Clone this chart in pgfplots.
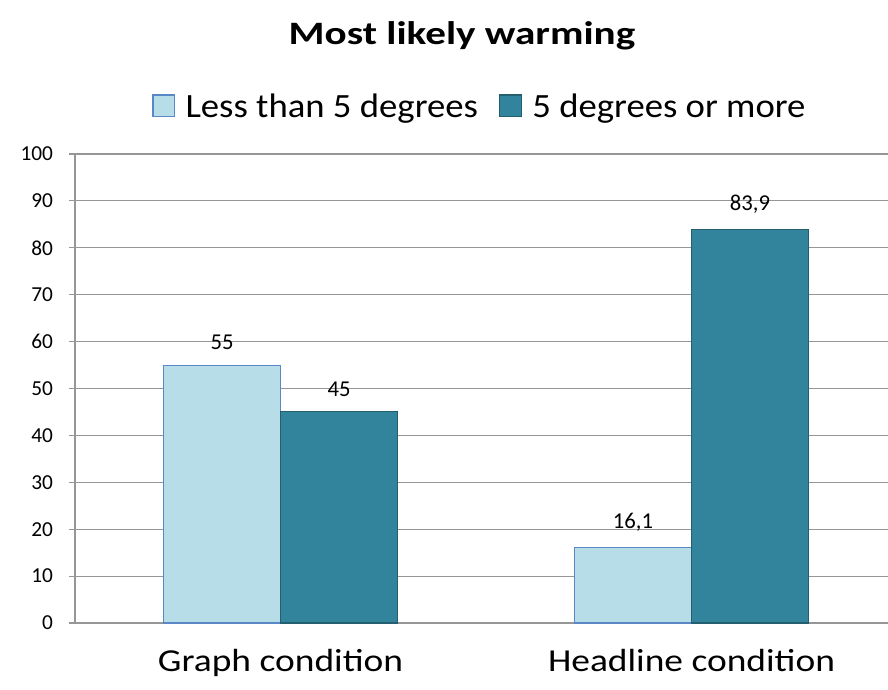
\documentclass[border=0pt]{standalone}
\usepackage{fontspec}
\setmainfont{Carlito}
\newfontfamily\titlefont{Carlito}[FakeStretch=1.26]
\newfontfamily\legendfont{Carlito}[FakeStretch=1.08]
\newfontfamily\catfont{Carlito}[FakeStretch=1.17]
\usepackage{pgfplots}
\pgfplotsset{compat=1.18}
\definecolor{lightfill}{HTML}{B7DEE8}
\definecolor{lightedge}{HTML}{5A87C5}
\definecolor{darkfill}{HTML}{31849B}
\definecolor{darkedge}{HTML}{235F6F}
\definecolor{gridgray}{HTML}{969696}
\begin{document}
\begin{tikzpicture}
\begin{axis}[
  name=ax,
  scale only axis,
  width=609.75pt, height=351.75pt,
  xmin=-0.5, xmax=1.478,
  ymin=0, ymax=100,
  ytick={0,10,...,100},
  xtick={0,1},
  xticklabels={Graph condition, Headline condition},
  x tick label style={font=\catfont\fontsize{24}{28}\selectfont, yshift=-12pt},
  major x tick style={draw=none},
  extra x ticks={-0.5,0.5},
  extra x tick labels={},
  extra x tick style={major tick length=6pt, tick style={draw=gridgray, line width=0.8pt}, tick align=outside, grid=none},
  y tick label style={font=\fontsize{16}{19}\selectfont, xshift=-8.5pt},
  /pgf/number format/assume math mode=true,
  ymajorgrids,
  grid style={draw=gridgray, line width=0.9pt},
  axis x line*=bottom,
  axis y line*=left,
  axis line style={draw=gridgray, line width=1.1pt},
  y axis line style={line width=0.9pt},
  tick align=outside,
  major tick length=4.5pt,
  ytick style={draw=gridgray, line width=0.9pt},
  ybar,
  bar width=0.2847,
  nodes near coords,
  nodes near coords style={font=\fontsize{17}{20}\selectfont, anchor=south, yshift=8pt, /pgf/number format/use comma, /pgf/number format/assume math mode=true},
  legend columns=2,
  legend style={draw=none, fill=none, font=\legendfont\fontsize{25.5}{30}\selectfont, at={(0.4985,1.0)}, anchor=center, yshift=35.25pt,
    /tikz/every even column/.append style={column sep=14pt},
    /tikz/every odd column/.append style={column sep=6pt}},
  legend image code/.code={\draw[#1, line width=0.8pt] (0pt,-7pt) rectangle (16pt,9pt);},
  clip=false,
]
\addplot[fill=lightfill, draw=lightedge, line width=0.8pt, bar shift=-0.14235] coordinates {(0,55) (1,16.1)};
\addplot[fill=darkfill, draw=darkedge, line width=0.8pt, bar shift=0.14235] coordinates {(0,45) (1,83.9)};
\legend{Less than 5 degrees, 5 degrees or more}
\node[font=\titlefont\bfseries\fontsize{24.5}{29}\selectfont, anchor=center] at ([yshift=89pt]rel axis cs:0.476,1) {Most likely warming};
\end{axis}
\pgfresetboundingbox
\path ([xshift=-56.25pt,yshift=-49.5pt]ax.south west) rectangle ([yshift=115.5pt]ax.north east);
\end{tikzpicture}
\end{document}
